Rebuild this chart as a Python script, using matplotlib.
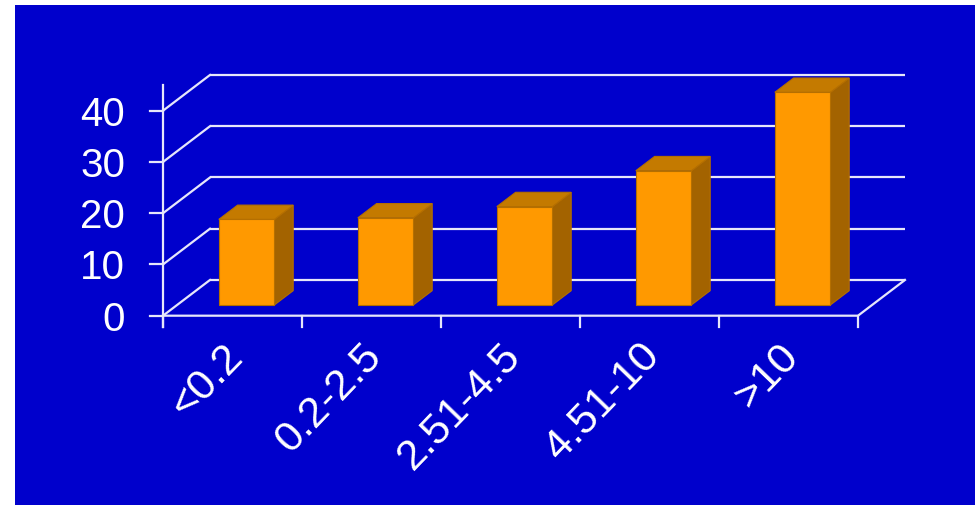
import matplotlib
matplotlib.use("Agg")
import matplotlib.pyplot as plt
from matplotlib.patches import Polygon, Rectangle

# ---- data -------------------------------------------------------------
categories = ["<0.2", "0.2-2.5", "2.51-4.5", "4.51-10", ">10"]
values = [16.7, 17.0, 19.2, 26.2, 41.5]
y_ticks = [0, 10, 20, 30, 40]

# ---- styling / layout -------------------------------------------------
BG = "#0000CC"
GRID = "#E6E6FA"
FRONT = "#FF9900"
TOP = "#C47A00"
SIDE = "#A36300"
EDGE = "#B56F00"
FONT = "Liberation Sans"

DEPTH_X = 0.338   # oblique shift (category units) for full depth
DEPTH_Y = 6.97    # oblique shift (value units) for full depth
BAR_D0, BAR_D1 = 0.3, 0.7
BAR_HALF = 0.2
AXIS_TOP = 45
TICK_LEN_Y = 2.2
TICK_LEN_X = 0.094


def proj(x, y, d):
    """Oblique projection of (category, value, depth) onto the page plane."""
    return (x + d * DEPTH_X, y + d * DEPTH_Y)


fig = plt.figure(figsize=(9.75, 5.05), dpi=100)
fig.patch.set_facecolor("white")
fig.add_artist(Rectangle((15 / 975, 0), 1 - 15 / 975, 1 - 5 / 505,
                         transform=fig.transFigure, facecolor=BG,
                         edgecolor="none", zorder=0))

ax = fig.add_axes([0, 0, 1, 1])
ax.set_xlim(-1.1727, 5.8417)
ax.set_ylim(-36.94, 61.60)
ax.axis("off")
ax.patch.set_alpha(0)

n = len(categories)
lw = 1.6

# back wall and side wall grid lines
for t in y_ticks:
    xs, ys = zip(proj(0, t, 1), proj(n, t, 1))
    ax.plot(xs, ys, color=GRID, lw=lw, solid_capstyle="butt", zorder=1)
    xs, ys = zip(proj(0, t, 0), proj(0, t, 1))
    ax.plot(xs, ys, color=GRID, lw=lw, zorder=1)

# floor: front edge and right edge
xs, ys = zip(proj(0, 0, 0), proj(n, 0, 0), proj(n, 0, 1))
ax.plot(xs, ys, color=GRID, lw=lw, zorder=1)

# value axis line and ticks
ax.plot([0, 0], [-TICK_LEN_Y, AXIS_TOP], color=GRID, lw=lw, zorder=2)
for t in y_ticks:
    ax.plot([-TICK_LEN_X, 0], [t, t], color=GRID, lw=lw, zorder=2)
    ax.text(-0.273, t, str(t), ha="right", va="center_baseline",
            color="white", fontsize=29, family=FONT)

# category ticks
for k in range(n + 1):
    ax.plot([k, k], [0, -TICK_LEN_Y], color=GRID, lw=lw, zorder=2)

# 3D-look bars
for i, v in enumerate(values):
    c = i + 0.5
    x0, x1 = c - BAR_HALF, c + BAR_HALF
    side = [proj(x1, 0, BAR_D0), proj(x1, 0, BAR_D1),
            proj(x1, v, BAR_D1), proj(x1, v, BAR_D0)]
    top = [proj(x0, v, BAR_D0), proj(x1, v, BAR_D0),
           proj(x1, v, BAR_D1), proj(x0, v, BAR_D1)]
    front = [proj(x0, 0, BAR_D0), proj(x1, 0, BAR_D0),
             proj(x1, v, BAR_D0), proj(x0, v, BAR_D0)]
    for pts, col in ((side, SIDE), (top, TOP), (front, FRONT)):
        ax.add_patch(Polygon(pts, closed=True, facecolor=col,
                             edgecolor=EDGE, lw=0.8, zorder=3))

# category labels
for i, lab in enumerate(categories):
    ax.text(i + 0.5 + 0.03, -6.7, lab, rotation=46, rotation_mode="anchor",
            ha="right", va="center", color="white", fontsize=31, family=FONT)

fig.savefig("out.png", dpi=100, facecolor=fig.get_facecolor())
